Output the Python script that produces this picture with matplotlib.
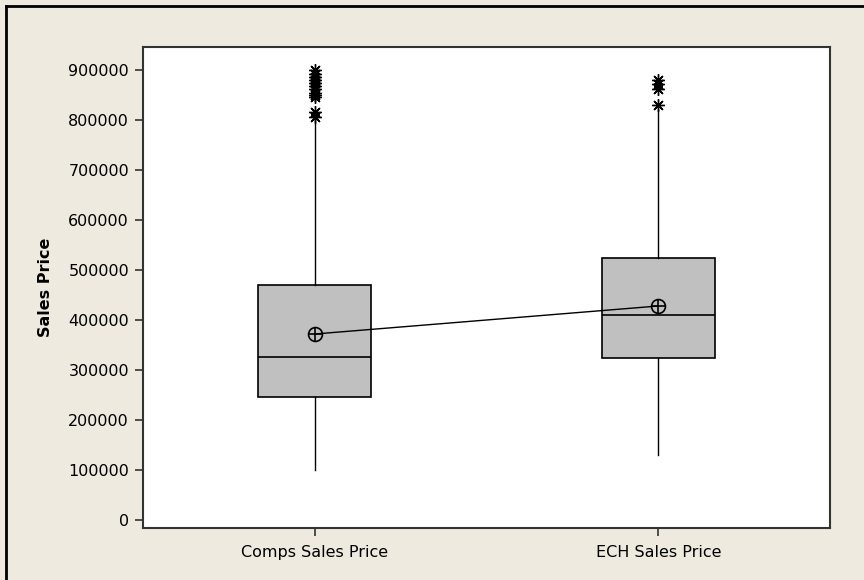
import matplotlib.pyplot as plt
from matplotlib.lines import Line2D

# summary statistics for each sales price group
groups = ['Comps Sales Price', 'ECH Sales Price']
q1 = [246000, 324000]
medians = [326000, 410000]
q3 = [470000, 524000]
whisker_low = [100000, 130000]
whisker_high = [800000, 820000]
means = [372000, 428000]
outliers = [
    [900000, 893000, 886000, 880000, 874000, 868000, 862000, 855000,
     850000, 846000, 816000, 806000],
    [880000, 872000, 862000, 830000],
]
yticks = [0, 100000, 200000, 300000, 400000, 500000, 600000, 700000, 800000, 900000]

bg = '#EEEAE0'
plt.rcParams['font.family'] = ['DejaVu Sans']

fig = plt.figure(figsize=(8.64, 5.8), dpi=100, facecolor=bg)
ax = fig.add_axes([143 / 864, 1 - 528 / 580, 687 / 864, 481 / 580])
ax.set_facecolor('white')

stats = []
for i in range(len(groups)):
    stats.append({
        'label': groups[i], 'q1': q1[i], 'med': medians[i], 'q3': q3[i],
        'whislo': whisker_low[i], 'whishi': whisker_high[i],
        'mean': means[i], 'fliers': outliers[i],
    })

star = (8, 2, 0)
ax.bxp(stats, positions=[1, 2], widths=0.33, patch_artist=True,
       showcaps=False, showmeans=False,
       boxprops=dict(facecolor='#C0C0C0', edgecolor='black', linewidth=1.2),
       medianprops=dict(color='black', linewidth=1.2),
       whiskerprops=dict(color='black', linewidth=1.0),
       flierprops=dict(marker=star, markersize=9, markeredgecolor='black',
                       markeredgewidth=1.0, linestyle='none'))

# mean connect line with circled-plus symbols
ax.plot([1, 2], means, color='black', linewidth=1.0, zorder=4)
ax.plot([1, 2], means, linestyle='none', marker='o', markersize=10,
        markerfacecolor='none', markeredgecolor='black', markeredgewidth=1.2, zorder=5)
ax.plot([1, 2], means, linestyle='none', marker='+', markersize=10,
        markeredgecolor='black', markeredgewidth=1.2, zorder=5)

ax.set_xlim(0.5, 2.5)
ax.set_ylim(-16000, 946000)
ax.set_yticks(yticks)
ax.set_yticklabels([str(v) for v in yticks])
ax.set_xticks([1, 2])
ax.set_xticklabels(groups)
ax.tick_params(axis='both', labelsize=11.5, length=6, width=1.2, color='#333333',
               direction='out', pad=4)
ax.tick_params(axis='x', pad=6)
for s in ax.spines.values():
    s.set_color('#333333')
    s.set_linewidth(1.5)

ax.set_ylabel('Sales Price', fontsize=11.5, fontweight='bold')
ax.yaxis.set_label_coords(-90 / 687, 0.5)

# outer frame around the figure
fig.add_artist(Line2D([6 / 864, 1], [1 - 6 / 580, 1 - 6 / 580], color='black', linewidth=2))
fig.add_artist(Line2D([6 / 864, 6 / 864], [0, 1 - 6 / 580], color='black', linewidth=2))

fig.savefig('out.png', dpi=100, facecolor=bg)
